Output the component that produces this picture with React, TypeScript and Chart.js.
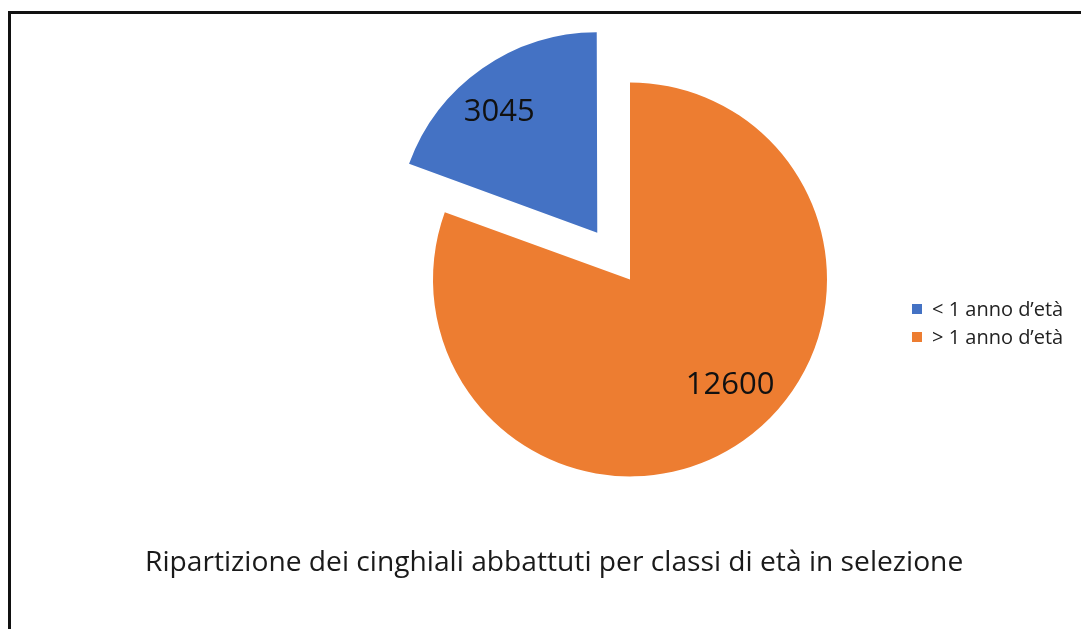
import React, { useEffect, useRef } from 'react';
import { Chart, registerables } from 'chart.js';

Chart.register(...registerables);

// ---- data ----
const CATEGORIES: string[] = ['< 1 anno d’età', '> 1 anno d’età'];
const VALUES: number[] = [3045, 12600];
const COLORS: string[] = ['#4472C4', '#ED7D31'];
const EXPLODE_PX: number[] = [57, 0];
const TITLE = 'Ripartizione dei cinghiali abbattuti per classi di età in selezione';

// ---- styling / layout ----
const FONT = '"Open Sans", sans-serif';
const VIEW_W = 1081;
const VIEW_H = 629;
const CANVAS_W = 1115; // wider than the view so the pie sits right of the title centre
const LABEL_PLACEMENT = [
  { shift: -3.8, frac: 0.794 },
  { shift: -8.6, frac: 0.736 },
];
const LEGEND_LAYOUT = { x: 912, y: 304, box: 10, gap: 10, pitch: 28, fontSize: 20 };

const sliceLabels = {
  id: 'sliceLabels',
  afterDatasetsDraw(chart: any) {
    const ctx = chart.ctx;
    const meta = chart.getDatasetMeta(0);
    const data = chart.data.datasets[0].data as number[];
    ctx.save();
    ctx.font = `31px ${FONT}`;
    ctx.fillStyle = '#111';
    ctx.textAlign = 'center';
    ctx.textBaseline = 'middle';
    meta.data.forEach((arc: any, i: number) => {
      const p = arc.getProps(['x', 'y', 'startAngle', 'endAngle', 'outerRadius'], true);
      const mid = (p.startAngle + p.endAngle) / 2;
      const off = (arc.options.offset || 0) / 4;
      const pl = LABEL_PLACEMENT[i] || { shift: 0, frac: 0.75 };
      const a = mid + (pl.shift * Math.PI) / 180;
      const lx = p.x + Math.cos(mid) * off + Math.cos(a) * p.outerRadius * pl.frac;
      const ly = p.y + Math.sin(mid) * off + Math.sin(a) * p.outerRadius * pl.frac;
      ctx.fillText(String(data[i]), lx, ly + 1);
    });
    ctx.restore();
  },
};

const sideLegend = {
  id: 'sideLegend',
  afterDraw(chart: any) {
    const ctx = chart.ctx;
    const labels = chart.data.labels as string[];
    const colors = chart.data.datasets[0].backgroundColor as string[];
    const L = LEGEND_LAYOUT;
    ctx.save();
    ctx.font = `${L.fontSize}px ${FONT}`;
    ctx.textAlign = 'left';
    ctx.textBaseline = 'middle';
    labels.forEach((lab, i) => {
      const y = L.y + i * L.pitch;
      ctx.fillStyle = colors[i];
      ctx.fillRect(L.x, y, L.box, L.box);
      ctx.fillStyle = '#222';
      ctx.fillText(lab, L.x + L.box + L.gap, y + L.box / 2 + 1);
    });
    ctx.restore();
  },
};

export default function App() {
  const ref = useRef<HTMLCanvasElement | null>(null);

  useEffect(() => {
    if (!ref.current) return;
    const total = VALUES.reduce((s, v) => s + v, 0);
    const chart = new Chart(ref.current, {
      type: 'pie',
      data: {
        labels: CATEGORIES,
        datasets: [
          {
            data: VALUES,
            backgroundColor: COLORS,
            borderWidth: 0,
            offset: EXPLODE_PX.map((v) => v * 4),
          },
        ],
      },
      options: {
        responsive: false,
        animation: false,
        radius: 197,
        rotation: (-360 * VALUES[0]) / total,
        layout: { padding: { left: 145, right: 0, top: 17, bottom: 38 } },
        plugins: {
          legend: { display: false },
          tooltip: { enabled: false },
          title: {
            display: true,
            text: TITLE,
            position: 'bottom',
            align: 'start',
            color: '#1a1a1a',
            font: { family: FONT, size: 28.2, weight: 'normal' },
            padding: { top: 4.2, bottom: 11.2 },
          },
        },
      } as any,
      plugins: [sliceLabels, sideLegend],
    });
    return () => chart.destroy();
  }, []);

  return (
    <div
      style={{
        position: 'fixed',
        left: 0,
        top: 0,
        width: VIEW_W,
        height: VIEW_H,
        overflow: 'hidden',
        background: '#fff',
      }}
    >
      <div
        style={{
          position: 'absolute',
          left: 8,
          top: 11,
          width: VIEW_W - 8,
          height: VIEW_H - 11,
          boxSizing: 'border-box',
          borderTop: '3px solid #111',
          borderLeft: '3px solid #111',
        }}
      />
      <canvas
        ref={ref}
        width={CANVAS_W}
        height={VIEW_H}
        style={{ position: 'absolute', left: 0, top: 0, width: CANVAS_W, height: VIEW_H }}
      />
    </div>
  );
}
